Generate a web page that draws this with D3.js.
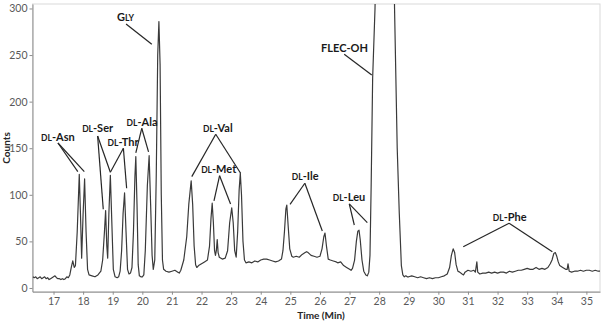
<!DOCTYPE html>
<html>
<head>
<meta charset="utf-8">
<script src="https://cdn.jsdelivr.net/npm/d3@7"></script>
<style>
  body { margin: 0; background: #fff; }
  text { font-family: Lato, "Open Sans", sans-serif; }
</style>
</head>
<body>
<div id="chart"></div>
<script>
// chromatogram trace (time in min, counts)
let times = [
  16.3, 16.35, 16.4, 16.45, 16.5, 16.55, 16.6, 16.65, 16.7, 16.75, 16.8, 16.85, 16.9, 16.95,
  17.0, 17.05, 17.1, 17.15, 17.2, 17.25, 17.3, 17.35, 17.4, 17.45, 17.5, 17.55, 17.6, 17.65,
  17.7, 17.74, 17.8, 17.87, 17.91, 17.95, 18.0, 18.05, 18.1, 18.15, 18.2, 18.3, 18.4, 18.5,
  18.6, 18.66, 18.72, 18.76, 18.8, 18.83, 18.87, 18.92, 18.97, 19.02, 19.08, 19.15, 19.2,
  19.25, 19.3, 19.35, 19.4, 19.45, 19.5, 19.55, 19.6, 19.65, 19.7, 19.75, 19.78, 19.82, 19.86,
  19.9, 19.95, 20.0, 20.05, 20.1, 20.17, 20.23, 20.28, 20.33, 20.37, 20.42, 20.47, 20.52,
  20.56, 20.6, 20.64, 20.68, 20.72, 20.8, 20.9, 21.0, 21.1, 21.2, 21.25, 21.3, 21.4, 21.5,
  21.57, 21.65, 21.7, 21.75, 21.8, 21.84, 21.9, 22.0, 22.1, 22.2, 22.27, 22.32, 22.36, 22.4,
  22.44, 22.47, 22.5, 22.53, 22.56, 22.6, 22.7, 22.8, 22.88, 22.95, 23.02, 23.07, 23.12,
  23.17, 23.22, 23.27, 23.31, 23.35, 23.4, 23.45, 23.5, 23.6, 23.7, 23.8, 23.9, 24.0, 24.1,
  24.2, 24.3, 24.4, 24.5, 24.6, 24.7, 24.75, 24.8, 24.85, 24.88, 24.93, 24.98, 25.05, 25.1,
  25.2, 25.3, 25.4, 25.5, 25.55, 25.6, 25.7, 25.8, 25.9, 26.0, 26.07, 26.13, 26.17, 26.22,
  26.28, 26.35, 26.45, 26.55, 26.6, 26.7, 26.8, 26.9, 27.0, 27.05, 27.1, 27.17, 27.23, 27.28,
  27.32, 27.36, 27.42, 27.48, 27.55, 27.6, 27.65, 27.69, 27.73, 27.78, 27.86, 27.95, 28.05,
  28.2, 28.35, 28.45, 28.52, 28.61, 28.68, 28.75, 28.8, 28.85, 28.9, 28.95, 29.0, 29.1, 29.2,
  29.3, 29.4, 29.5, 29.6, 29.7, 29.8, 29.9, 30.0, 30.1, 30.2, 30.3, 30.38, 30.44, 30.5, 30.55,
  30.6, 30.66, 30.72, 30.8, 30.85, 30.9, 31.0, 31.1, 31.2, 31.25, 31.3, 31.33, 31.4, 31.5,
  31.6, 31.7, 31.8, 31.9, 32.0, 32.1, 32.2, 32.3, 32.4, 32.5, 32.6, 32.7, 32.8, 32.9, 33.0,
  33.1, 33.2, 33.3, 33.4, 33.5, 33.6, 33.7, 33.78, 33.84, 33.9, 33.95, 34.0, 34.05, 34.1,
  34.2, 34.3, 34.35, 34.38, 34.42, 34.5, 34.6, 34.7, 34.8, 34.9, 35.0, 35.1, 35.2, 35.3,
  35.4, 35.46
];
let counts = [
  12, 11, 12, 10, 11, 12, 10, 11, 12, 10, 11, 9, 10, 11,
  12, 13, 11, 10, 10, 9, 10, 9, 10, 12, 11, 14, 22, 29,
  22, 24, 60, 122, 80, 32, 80, 117, 60, 20, 14, 13, 12, 14,
  18, 30, 60, 83, 45, 32, 80, 121, 70, 20, 12, 11, 12,
  18, 40, 80, 102, 60, 20, 15, 16, 22, 60, 120, 141, 90, 25,
  13, 12, 12, 14, 40, 110, 142, 90, 35, 20, 30, 120, 250,
  286, 240, 100, 30, 20, 18, 17, 18, 19, 17, 16, 19, 30, 55,
  90, 115, 90, 45, 25, 22, 24, 26, 28, 30, 45, 75, 91, 70,
  40, 35, 40, 52, 38, 33, 31, 32, 40, 70, 86, 70, 40,
  33, 60, 105, 123, 100, 50, 30, 27, 28, 27, 29, 28, 30, 31,
  31, 30, 29, 28, 29, 31, 40, 60, 85, 89, 65, 42, 34, 33,
  34, 33, 36, 38, 39, 38, 35, 34, 33, 34, 42, 55, 59, 45,
  31, 30, 29, 28, 27, 28, 24, 22, 20, 19, 21, 30, 50, 61,
  62, 52, 30, 18, 14, 13, 17, 35, 110, 225, 300, 460, 700,
  900, 800, 450, 300, 150, 80, 24, 14, 12, 13, 12, 12, 13, 12,
  11, 12, 11, 10, 11, 10, 11, 11, 12, 13, 15, 22, 35, 42, 38,
  25, 18, 17, 15, 14, 17, 19, 18, 19, 17, 28, 17, 15, 16,
  16, 17, 16, 17, 16, 17, 17, 16, 18, 17, 18, 19, 19, 20, 21,
  20, 20, 22, 20, 21, 20, 22, 26, 30, 37, 38, 34, 28, 24,
  22, 20, 20, 26, 18, 17, 18, 18, 19, 18, 19, 19, 18, 19,
  18, 18
];

let xTicks = d3.range(17, 36);
let yTicks = [0, 50, 100, 150, 200, 250, 300];

// peak labels: small caps prefix + rest, label position, leader start, leader ends (all in data units)
let labels = [
  { pre: "DL", main: "-Asn", t: 17.15, c: 162, st: [17.15, 155.6], ends: [[17.82, 124.8], [18.04, 124.8]] },
  { pre: "DL", main: "-Ser", t: 18.49, c: 171.7, st: [18.49, 163.1], ends: [[18.68, 84.5], [18.92, 124.2]] },
  { pre: "DL", main: "-Thr", t: 19.35, c: 157, st: [19.36, 149.9], ends: [[18.92, 124.2], [19.47, 107]] },
  { pre: "DL", main: "-Ala", t: 19.99, c: 178.5, st: [19.98, 171.4], ends: [[19.78, 144.9], [20.21, 146]] },
  { cap: "G", small: "LY", t: 19.43, c: 291.2, st: [19.45, 283.4], ends: [[20.32, 261.6]] },
  { pre: "DL", main: "-Val", t: 22.55, c: 171.4, st: [22.48, 165], ends: [[21.67, 119.5], [23.32, 123.1]] },
  { pre: "DL", main: "-Met", t: 22.58, c: 127.4, st: [22.61, 120.5], ends: [[22.42, 93.4], [22.98, 90.2]] },
  { pre: "DL", main: "-Ile", t: 25.5, c: 119.5, st: [25.49, 112.4], ends: [[24.99, 89.8], [26.08, 61.2]] },
  { pre: "DL", main: "-Leu", t: 26.98, c: 98, st: [26.99, 90.2], ends: [[27.16, 67.6], [27.6, 70.1]] },
  { pre: "", main: "FLEC-OH", t: 26.83, c: 257.9, st: [26.82, 250.8], ends: [[27.75, 228.6]] },
  { pre: "DL", main: "-Phe", t: 32.41, c: 76.5, st: [32.39, 69.4], ends: [[30.84, 44.3], [33.85, 39]] }
];

let width = 602, height = 322;
let pLeft = 32.5, pRight = 600, pTop = 4, pBottom = 291.7;

let svg = d3.select("#chart").append("svg")
  .attr("width", width).attr("height", height);

let xScale = d3.scaleLinear().domain([16.29, 35.46]).range([pLeft, pRight]);
let yScale = d3.scaleLinear().domain([-4, 304.8]).range([pBottom, pTop]);

// frame (light grey top/right)
svg.append("rect")
  .attr("x", pLeft).attr("y", pTop)
  .attr("width", pRight - pLeft).attr("height", pBottom - pTop)
  .attr("fill", "none").attr("stroke", "#d9d9d9").attr("stroke-width", 1);

svg.append("clipPath").attr("id", "clip")
  .append("rect")
  .attr("x", pLeft).attr("y", pTop)
  .attr("width", pRight - pLeft).attr("height", pBottom - pTop);

// axes
let xAxis = svg.append("g")
  .attr("transform", `translate(0, ${pBottom})`)
  .call(d3.axisBottom(xScale).tickValues(xTicks).tickSize(3).tickSizeOuter(0).tickPadding(3));
let yAxis = svg.append("g")
  .attr("transform", `translate(${pLeft}, 0)`)
  .call(d3.axisLeft(yScale).tickValues(yTicks).tickSize(3).tickSizeOuter(0).tickPadding(2));

[xAxis, yAxis].forEach(a => {
  a.select(".domain").attr("stroke", "#8c8c8c");
  a.selectAll(".tick line").attr("stroke", "#8c8c8c");
  a.selectAll(".tick text")
    .attr("fill", "#595959")
    .style("font-size", "10.5px")
    .style("font-family", "Lato, sans-serif");
});

// axis titles
svg.append("text")
  .attr("x", 321).attr("y", 319)
  .attr("text-anchor", "middle")
  .style("font-size", "10px").style("font-weight", "bold")
  .attr("fill", "#262626")
  .text("Time (Min)");
svg.append("text")
  .attr("transform", `translate(10, ${(pTop + pBottom) / 2}) rotate(-90)`)
  .attr("text-anchor", "middle")
  .style("font-size", "10px").style("font-weight", "bold")
  .attr("fill", "#262626")
  .text("Counts");

// trace
let trace = times.map((t, i) => [t, counts[i]]);
let line = d3.line()
  .x(d => xScale(d[0]))
  .y(d => yScale(d[1]));

svg.append("path")
  .datum(trace)
  .attr("clip-path", "url(#clip)")
  .attr("fill", "none")
  .attr("stroke", "#3a3a3a")
  .attr("stroke-width", 1.2)
  .attr("stroke-linejoin", "round")
  .attr("d", line);

// labels and leader lines
let ann = svg.append("g");
labels.forEach(l => {
  l.ends.forEach(e => {
    ann.append("line")
      .attr("x1", xScale(l.st[0])).attr("y1", yScale(l.st[1]))
      .attr("x2", xScale(e[0])).attr("y2", yScale(e[1]))
      .attr("stroke", "#262626").attr("stroke-width", 1.2);
  });
  let txt = ann.append("text")
    .attr("x", xScale(l.t)).attr("y", yScale(l.c))
    .attr("dy", "0.35em")
    .attr("text-anchor", "middle")
    .attr("fill", "#1a1a1a")
    .style("font-weight", "bold")
    .style("font-size", "11px");
  if (l.cap) {
    txt.append("tspan").text(l.cap);
    txt.append("tspan").style("font-size", "8.5px").text(l.small);
  } else {
    if (l.pre) txt.append("tspan").style("font-size", "8.5px").text(l.pre);
    txt.append("tspan").text(l.main);
  }
});
</script>
</body>
</html>
